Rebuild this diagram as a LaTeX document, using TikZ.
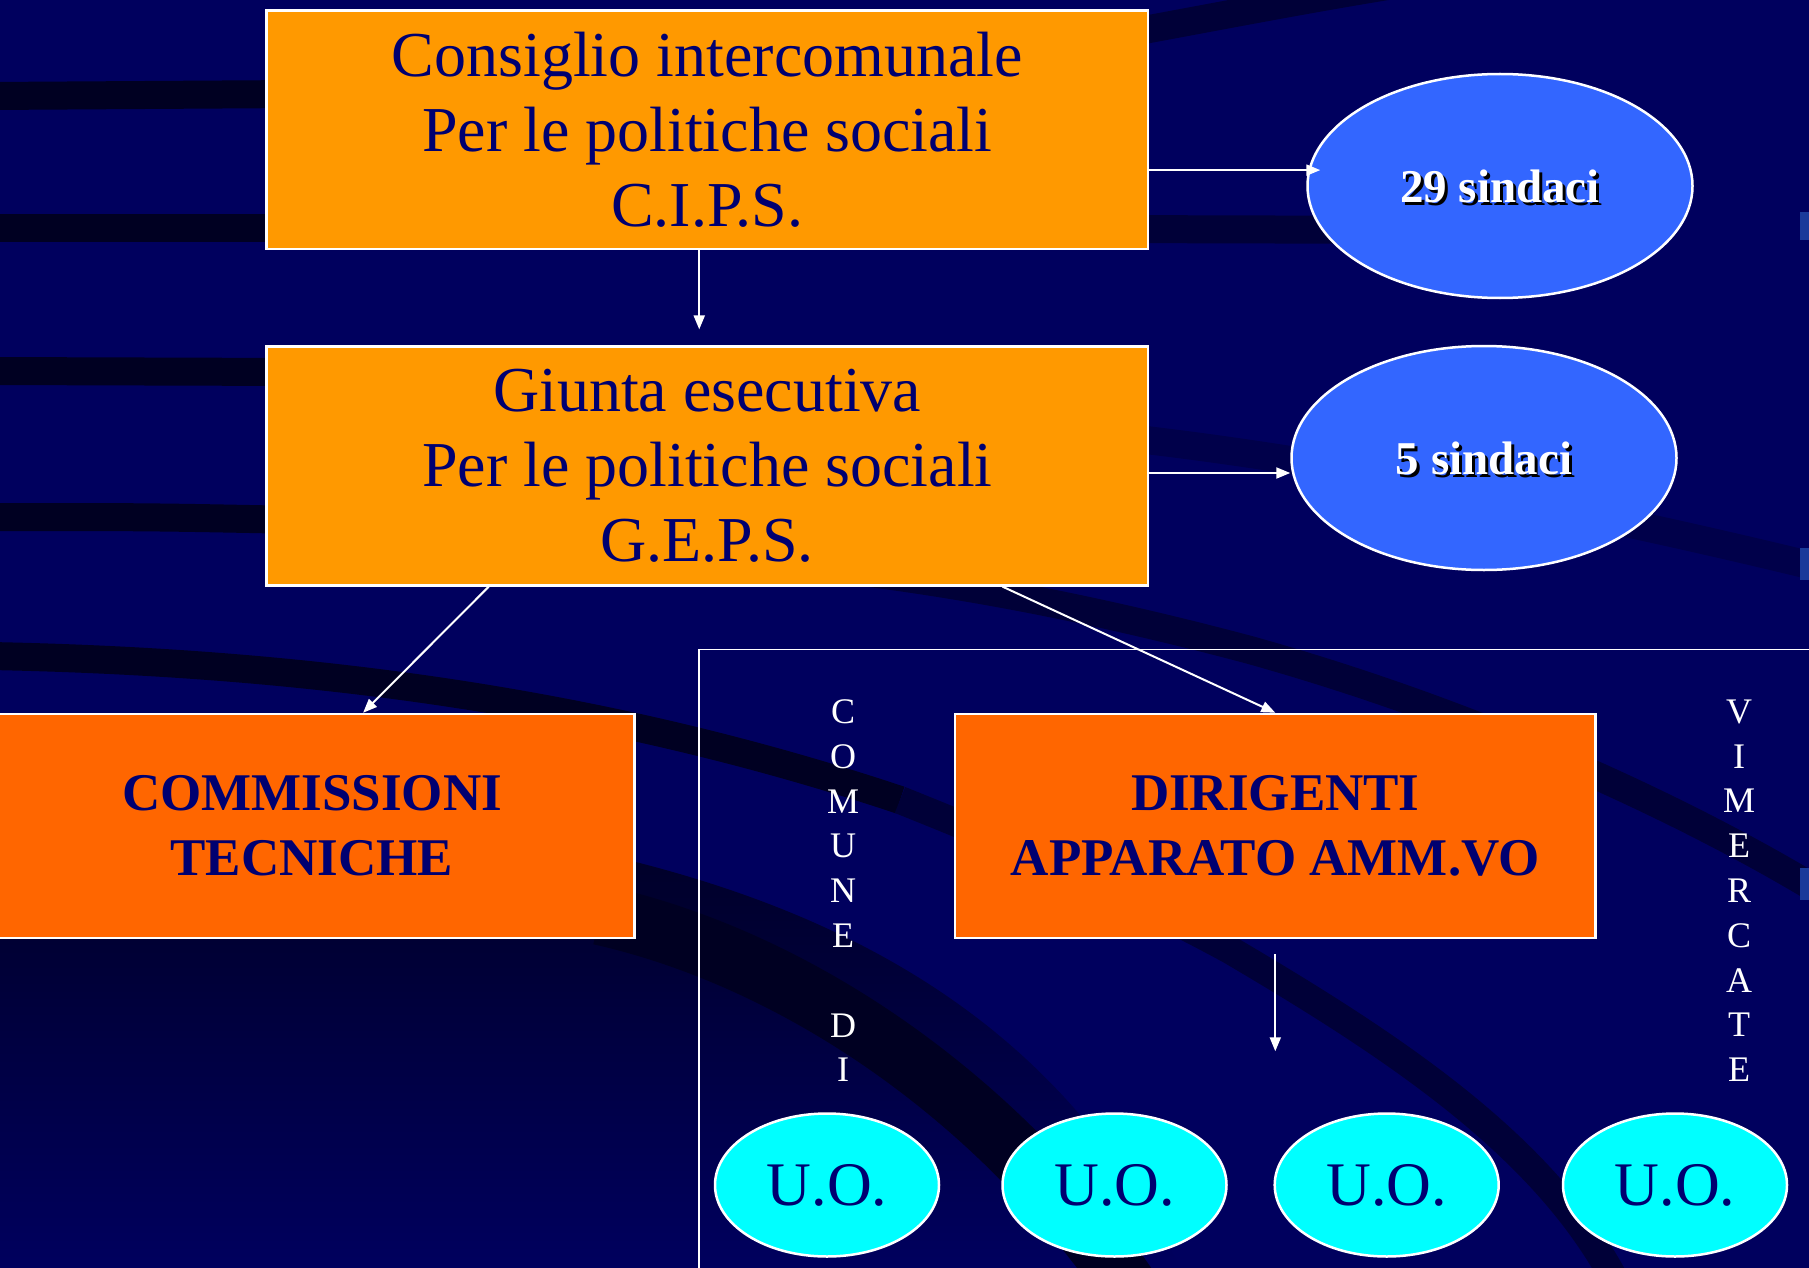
\documentclass[tikz,border=0pt]{standalone}
\usepackage{fontspec}
\setmainfont{Liberation Serif}
\usetikzlibrary{arrows.meta,shapes.geometric,calc}
\definecolor{bgnavy}{HTML}{00005E}
\definecolor{bgdark}{HTML}{000022}
\definecolor{bgmid}{HTML}{000038}
\definecolor{bgfaint}{HTML}{00004A}
\definecolor{edgeblue}{HTML}{1A3A9A}
\definecolor{orangeA}{HTML}{FF9900}
\definecolor{orangeB}{HTML}{FF6600}
\definecolor{blueE}{HTML}{3366FF}
\definecolor{cyanE}{HTML}{00FFFF}
\definecolor{txtnavy}{HTML}{000070}
\begin{document}
\begin{tikzpicture}[x=1pt,y=-1pt,
  band/.style={line width=28pt},
  boxA/.style={rectangle,draw=white,line width=2.5pt,fill=orangeA,text=txtnavy,
    align=center,inner sep=0pt,minimum width=881.5pt,minimum height=238.7pt,
    font=\fontsize{64}{75}\selectfont},
  boxB/.style={rectangle,draw=white,line width=2.5pt,fill=orangeB,text=txtnavy,
    align=center,inner sep=0pt,minimum height=224pt,
    font=\bfseries\fontsize{53}{64.6}\selectfont},
  ellB/.style={ellipse,draw=white,line width=2.5pt,fill=blueE,inner sep=0pt,
    minimum width=385pt,minimum height=224pt},
  ellC/.style={ellipse,draw=white,line width=2.5pt,fill=cyanE,text=txtnavy,inner sep=0pt,
    minimum width=224pt,minimum height=143pt,font=\fontsize{62}{70}\selectfont},
  lblwhite/.style={text=white,font=\bfseries\fontsize{47}{56}\selectfont},
  lblshadow/.style={text=black,font=\bfseries\fontsize{47}{56}\selectfont},
  vtext/.style={text=white,align=center,inner sep=0pt,font=\fontsize{36}{44.8}\selectfont},
  arr/.style={draw=white,line width=2pt,-{Triangle[length=14pt,width=11pt]}},
  framel/.style={draw=white,line width=1.6pt}]
\useasboundingbox (0,0) rectangle (1809,1268);
% background
\fill[bgnavy] (0,0) rectangle (1809,1268);
\begin{scope}
\clip (0,0) rectangle (1809,1268);
% lower-left darker region
\shade[top color=bgdark,middle color=bgdark,bottom color=bgnavy]
  (0,800) .. controls (600,800) and (1000,900) .. (1180,1268) -- (0,1268) -- cycle;
% band A
\draw[band,bgdark] (-10,96) -- (300,94);
\draw[band,bgmid] (1100,38) .. controls (1200,20) and (1300,0) .. (1400,-16);
% band B
\draw[band,bgdark] (-10,228) -- (300,228);
\draw[band,bgmid] (1100,229) -- (1450,230);
% band C
\draw[band,bgdark] (-10,371) -- (300,372);
\draw[band,bgfaint] (1100,435) .. controls (1250,450) and (1500,490) .. (1809,565);
% band D
\draw[band,bgdark] (-10,517) .. controls (150,517) .. (300,520);
\draw[band,bgmid] (800,565) .. controls (950,580) and (1100,610) .. (1250,650)
   .. controls (1500,720) and (1700,820) .. (1809,885);
% band E
\draw[band,bgdark] (-10,656) .. controls (300,662) and (600,700) .. (900,800);
\draw[band,bgmid] (900,800) .. controls (1000,840) and (1120,890) .. (1230,950)
   .. controls (1400,1050) and (1550,1150) .. (1620,1290);
% band F
\draw[draw=bgdark,line width=60pt] (600,915) .. controls (800,960) and (1000,1100) .. (1130,1290);
\fill[edgeblue] (1800,212) rectangle (1809,240);
\fill[edgeblue] (1800,548) rectangle (1809,580);
\fill[edgeblue] (1800,868) rectangle (1809,900);
\end{scope}
% frame
\draw[framel] (699,1290) -- (699,649.5) -- (1830,649.5);
% boxes
\node[boxA] (cips) at (707.25,129.8) {Consiglio intercomunale\\Per le politiche sociali\\C.I.P.S.};
\node[boxA] (geps) at (707.25,466) {Giunta esecutiva\\Per le politiche sociali\\G.E.P.S.};
\node[boxB,minimum width=644.5pt] (comm) at (312,826) {COMMISSIONI\\TECNICHE};
\node[boxB,minimum width=640.6pt] (dir) at (1275.3,826) {DIRIGENTI\\APPARATO AMM.VO};
% ellipses
\node[ellB] (s29) at (1500,186) {};
\node[lblshadow] at ($(s29.center)+(3,3)$) {29 sindaci};
\node[lblwhite] (s29t) at (s29.center) {29 sindaci};
\node[ellB] (s5) at (1484,458) {};
\node[lblshadow] at ($(s5.center)+(3,3)$) {5 sindaci};
\node[lblwhite] (s5t) at (s5.center) {5 sindaci};
\node[ellC] (uo1) at (827,1185) {U.O.};
\node[ellC] (uo2) at (1114.5,1185) {U.O.};
\node[ellC] (uo3) at (1386.7,1185) {U.O.};
\node[ellC] (uo4) at (1675,1185) {U.O.};
% vertical texts
\node[vtext] (comune) at (843,890.75) {C\\O\\M\\U\\N\\E\\\mbox{}\\D\\I};
\node[vtext] (vimercate) at (1739,890.75) {V\\I\\M\\E\\R\\C\\A\\T\\E};
% connectors
\draw[arr] ($(cips.east)+(0,40.3)$) -- ($(cips.east -| s29.west)+(14,40.3)$);
\draw[arr] ($(geps.east)+(0,7)$) -- ($(geps.east -| s5.west)+(0,7)$);
\draw[arr] ($(cips.south)+(-8,0)$) -- ($(geps.north)+(-8,-16)$);
\draw[arr] ($(geps.south west)+(223.5,0)$) -- ($(comm.north west)+(374.6,0)$);
\draw[arr] ($(geps.south west)+(737.2,0)$) -- (dir.north);
\draw[arr] ($(dir.south)+(0,15)$) -- ($(dir.south)+(0,112)$);
\end{tikzpicture}
\end{document}
